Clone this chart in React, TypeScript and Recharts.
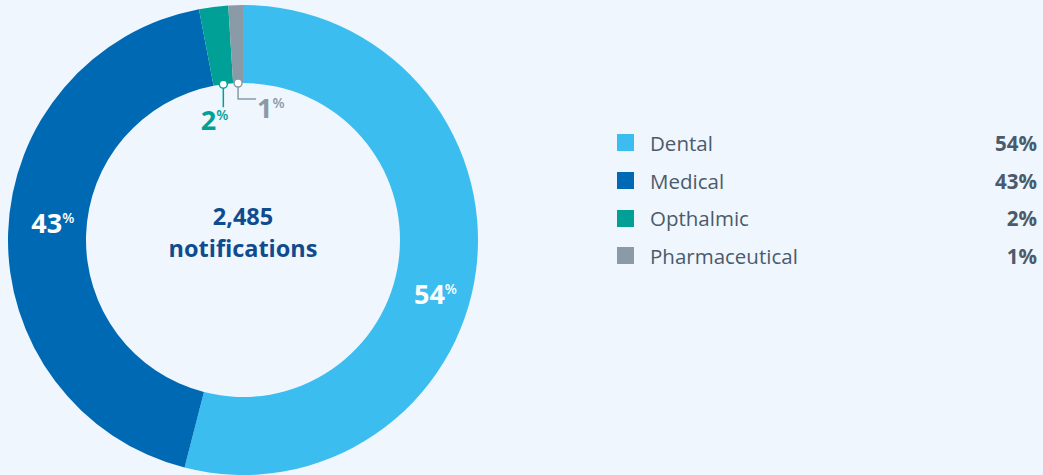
import React from 'react';
import { PieChart, Pie, Cell, Legend } from 'recharts';

const categories = ['Dental', 'Medical', 'Opthalmic', 'Pharmaceutical'];
const shares = [54, 43, 2, 1];
const colors = ['#3BBDEF', '#0069B4', '#00A096', '#8B9AA7'];
const totalLabel = '2,485';
const totalCaption = 'notifications';

const data = categories.map((name, i) => ({ name, value: shares[i], color: colors[i] }));

const FONT = '"Open Sans", "Noto Sans", sans-serif';
const RAD = Math.PI / 180;
const BG = '#EFF6FD';

const Pct = ({ value }: { value: number }) => (
  <>
    <tspan>{value}</tspan>
    <tspan fontSize={14} fontWeight={600} dy={-10}>%</tspan>
  </>
);

const renderLabel = (props: any) => {
  const { cx, cy, midAngle, innerRadius, outerRadius, index } = props;
  const value = shares[index];
  if (index < 2) {
    const angle = midAngle + (index === 0 ? -8.6 : -3.4);
    const r = (innerRadius + outerRadius) / 2 + (index === 0 ? 4 : -5);
    const x = cx + r * Math.cos(angle * RAD);
    const y = cy - r * Math.sin(angle * RAD);
    return (
      <g>
        {index === 0 && (
          <text x={cx} y={cy} textAnchor="middle" fill="#0F4C8E" fontFamily={FONT} fontWeight={700} fontSize={23.5}>
            <tspan x={cx} dy={-15}>{totalLabel}</tspan>
            <tspan x={cx} dy={32}>{totalCaption}</tspan>
          </text>
        )}
        <text x={x} y={y + 10} textAnchor="middle" fill="#FFFFFF" fontFamily={FONT} fontWeight={700} fontSize={27}>
          <Pct value={value} />
        </text>
      </g>
    );
  }
  const dx = cx + innerRadius * Math.cos(midAngle * RAD);
  const dy = cy - innerRadius * Math.sin(midAngle * RAD);
  const color = colors[index];
  if (index === 2) {
    return (
      <g>
        <line x1={dx} y1={dy} x2={dx} y2={dy + 23} stroke={color} strokeWidth={1.5} />
        <circle cx={dx} cy={dy} r={4} fill="#FFFFFF" stroke={color} strokeWidth={1.5} />
        <text x={dx + 5} y={dy + 46} textAnchor="end" fill={color} fontFamily={FONT} fontWeight={700} fontSize={27}>
          <Pct value={value} />
        </text>
      </g>
    );
  }
  return (
    <g>
      <polyline points={`${dx},${dy} ${dx},${dy + 16} ${dx + 18},${dy + 16}`} fill="none" stroke={color} strokeWidth={1.5} />
      <circle cx={dx} cy={dy} r={4} fill="#FFFFFF" stroke={color} strokeWidth={1.5} />
      <text x={dx + 19} y={dy + 35} textAnchor="start" fill={color} fontFamily={FONT} fontWeight={700} fontSize={27}>
        <Pct value={value} />
      </text>
    </g>
  );
};

const renderLegend = () => (
  <div style={{ fontFamily: FONT, fontSize: 20.5, color: '#4B5B6B' }}>
    {data.map((d) => (
      <div key={d.name} style={{ display: 'flex', alignItems: 'center', height: 37.7 }}>
        <div style={{ width: 17, height: 17, background: d.color, marginRight: 16 }} />
        <div style={{ flex: 1 }}>{d.name}</div>
        <div style={{ fontWeight: 700 }}>{d.value}%</div>
      </div>
    ))}
  </div>
);

export default function App() {
  return (
    <div style={{ position: 'absolute', left: 0, top: 0, width: 1043, height: 475, background: BG }}>
      <PieChart width={1043} height={475} margin={{ top: 0, right: 0, bottom: 0, left: 0 }}>
        <Pie
          data={data}
          dataKey="value"
          nameKey="name"
          cx={243}
          cy={240}
          innerRadius={157}
          outerRadius={235}
          startAngle={90}
          endAngle={-270}
          stroke="none"
          labelLine={false}
          label={renderLabel}
          isAnimationActive={false}
        >
          {data.map((d) => (
            <Cell key={d.name} fill={d.color} />
          ))}
        </Pie>
        <Legend
          content={renderLegend}
          wrapperStyle={{ position: 'absolute', left: 617, top: 124, width: 420 }}
        />
      </PieChart>
    </div>
  );
}
